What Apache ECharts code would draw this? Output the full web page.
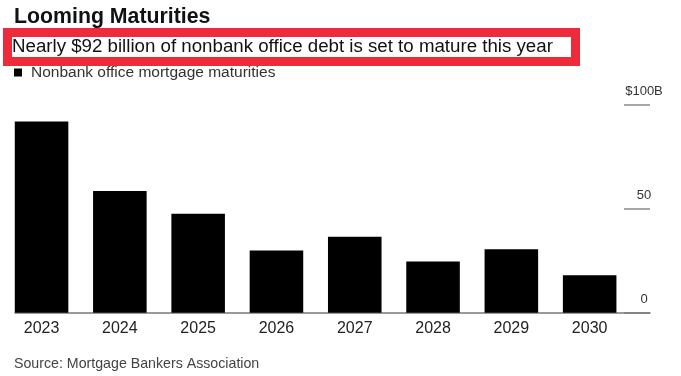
<!DOCTYPE html>
<html>
<head>
<meta charset="utf-8">
<script src="https://cdn.jsdelivr.net/npm/echarts@6/dist/echarts.min.js"></script>
<style>
  html, body { margin: 0; padding: 0; background: #fff; }
  #chart { width: 681px; height: 376px; }
</style>
</head>
<body>
<div id="chart"></div>
<script>
// 年份 / 到期金额（十亿美元）
var years = ['2023', '2024', '2025', '2026', '2027', '2028', '2029', '2030'];
var maturities = [92, 58.6, 47.7, 30, 36.6, 24.6, 30.5, 18];
var yTicks = [0, 50, 100];
var seriesName = 'Nonbank office mortgage maturities';

var font = 'Liberation Sans, Arial, Helvetica, sans-serif';
var myChart = echarts.init(document.getElementById('chart'));

var hiddenX = function (idx) {
    return { type: 'value', gridIndex: idx, min: 0, max: 1, show: false };
};

var option = {
    backgroundColor: '#fff',
    animation: false,
    title: [
        {
            text: 'Looming Maturities',
            left: 14, top: 7, padding: 0,
            textStyle: { fontFamily: font, fontSize: 21.3, fontWeight: 'bold', color: '#111' }
        },
        {
            text: 'Nearly $92 billion of nonbank office debt is set to mature this year',
            left: 12, top: 37, padding: 0,
            textStyle: { fontFamily: font, fontSize: 18.7, fontWeight: 'normal', color: '#111' }
        },
        {
            text: 'Source: Mortgage Bankers Association',
            left: 14, top: 357, padding: 0,
            textStyle: { fontFamily: font, fontSize: 14.2, fontWeight: 'normal', color: '#444' }
        }
    ],
    // 红色标注框
    graphic: [
        {
            type: 'rect',
            shape: { x: 7.5, y: 32.5, width: 568, height: 29 },
            style: { fill: 'none', stroke: '#ee2b3b', lineWidth: 9 },
            z: 10
        }
    ],
    legend: {
        left: 14, top: 64.5, padding: 0,
        icon: 'rect',
        itemWidth: 8, itemHeight: 8,
        data: [seriesName],
        textStyle: { fontFamily: font, fontSize: 15.5, color: '#333', padding: [0, 0, 0, 4] }
    },
    grid: [
        // 柱子
        { left: 2.4, width: 626.4, top: 105, bottom: 63.3, outerBoundsMode: 'none' },
        // 基线
        { left: 15, width: 635, top: 105, bottom: 63.3, outerBoundsMode: 'none' },
        // 右侧短刻度线
        { left: 624, width: 26, top: 105, bottom: 63.3, outerBoundsMode: 'none' },
        // 刻度文字（在刻度线上方）
        { left: 644, width: 1, top: 91.3, bottom: 77, outerBoundsMode: 'none' }
    ],
    xAxis: [
        {
            type: 'category', gridIndex: 0, data: years,
            axisLine: { show: false },
            axisTick: { show: false },
            axisLabel: { fontFamily: font, fontSize: 16, color: '#222', margin: 8 }
        },
        {
            type: 'value', gridIndex: 1, min: 0, max: 1,
            axisLine: { show: true, onZero: false, lineStyle: { color: '#7a7a7a', width: 1.5 } },
            axisTick: { show: false },
            axisLabel: { show: false },
            splitLine: { show: false }
        },
        hiddenX(2),
        hiddenX(3)
    ],
    yAxis: [
        { type: 'value', gridIndex: 0, min: 0, max: 100, show: false },
        { type: 'value', gridIndex: 1, min: 0, max: 100, show: false },
        {
            type: 'value', gridIndex: 2,
            min: yTicks[0], max: yTicks[yTicks.length - 1], interval: 50,
            axisLine: { show: false },
            axisTick: { show: false },
            axisLabel: { show: false },
            splitLine: { show: true, lineStyle: { color: '#8a8a8a', width: 1.5 } }
        },
        {
            type: 'value', gridIndex: 3, position: 'left',
            min: yTicks[0], max: yTicks[yTicks.length - 1], interval: 50,
            axisLine: { show: false },
            axisTick: { show: false },
            splitLine: { show: false },
            axisLabel: {
                fontFamily: font, fontSize: 13, color: '#333',
                align: 'center', margin: 0,
                formatter: function (v) { return v === 100 ? '$100B' : String(v); }
            }
        }
    ],
    series: [
        {
            name: seriesName,
            type: 'bar',
            xAxisIndex: 0, yAxisIndex: 0,
            data: maturities,
            barCategoryGap: '31.6%',
            itemStyle: { color: '#000' }
        }
    ]
};
myChart.setOption(option);
</script>
</body>
</html>
